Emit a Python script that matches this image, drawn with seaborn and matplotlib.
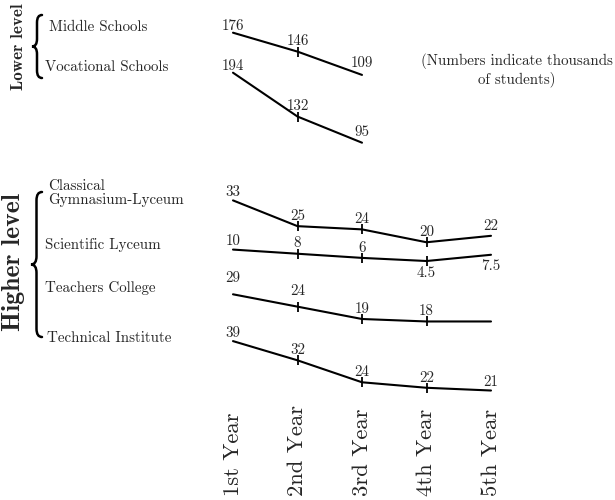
import matplotlib
matplotlib.use('Agg')
import matplotlib.pyplot as plt
from matplotlib.path import Path
from matplotlib.patches import PathPatch
from matplotlib.transforms import blended_transform_factory
import pandas as pd
import seaborn as sns

# data (thousands of students)
years = ['1st Year', '2nd Year', '3rd Year', '4th Year', '5th Year']
middle = [176, 146, 109]
vocational = [194, 132, 95]
classical = [33, 25, 24, 20, 22]
scientific = [10, 8, 6, 4.5, 7.5]
teachers = [29, 24, 19, 18, 18]
technical = [39, 32, 24, 22, 21]
teachers_labels = ['29', '24', '19', '18', '']

sns.set_style('white')
plt.rcParams['font.family'] = ['cmr10', 'DejaVu Serif']
plt.rcParams['axes.formatter.use_mathtext'] = True

W, H = 615, 500
fig = plt.figure(figsize=(W / 100, H / 100), dpi=100)

# overlay axes in pixel units for texts and braces
over = fig.add_axes([0, 0, 1, 1], facecolor='none')
over.set_xlim(0, W)
over.set_ylim(H, 0)
over.axis('off')

# x placement of the year columns (pixels)
x0, dx = 233, 64.5

# per series: values, labels, (reference value, its pixel row, pixels per unit)
rows = [
    (middle, None, (176, 32.7, 0.63)),
    (vocational, None, (194, 72.7, 0.707)),
    (classical, None, (24.8, 226.8, 3.22)),
    (scientific, None, (7.2, 255.4, 2.08)),
    (teachers, teachers_labels, (29, 294.3, 2.47)),
    (technical, None, (27.6, 372.4, 2.745)),
]
# label nudges (points above the line), default 4.5
nudge = {(0, 0): 2, (1, 0): 2, (4, 0): 8.5, (4, 1): 8.5, (0, 2): 5.5,
         (2, 0): 3.5, (3, 0): 3, (5, 0): 3, (5, 4): 3}
below = {(3, 3), (3, 4)}
vfs = 10.8


def fmt(v):
    return f'{v:g}'


axes = []
for r, (vals, labels, (vref, yref, k)) in enumerate(rows):
    ax = fig.add_axes([0, 0, 1, 1], facecolor='none')
    ax.set_xlim(-x0 / dx, (W - x0) / dx)
    ax.set_ylim(vref - (H - yref) / k, vref + yref / k)
    ax.axis('off')
    df = pd.DataFrame({'year': range(len(vals)), 'value': vals})
    sns.lineplot(data=df, x='year', y='value', ax=ax, color='black',
                 linewidth=1.5, legend=False)
    inner = df.iloc[1:-1]
    sns.scatterplot(data=inner, x='year', y='value', ax=ax, marker='|',
                    s=45, color='black', linewidth=1.3, legend=False)
    for i, v in enumerate(vals):
        txt = labels[i] if labels is not None else fmt(v)
        if not txt:
            continue
        if (r, i) in below:
            ax.annotate(txt, (i, v), xytext=(0, -3.5), textcoords='offset points',
                        ha='center', va='top', fontsize=vfs)
        else:
            ax.annotate(txt, (i, v), xytext=(0, nudge.get((r, i), 4.5)),
                        textcoords='offset points', ha='center', va='baseline',
                        fontsize=vfs)
    axes.append(ax)

# year labels along the bottom
tr = blended_transform_factory(axes[0].transData, over.transData)
for i, y in enumerate(years):
    axes[0].text(i, 496, y, transform=tr, rotation=90, ha='center', va='bottom',
                 fontsize=16.3)

# row names
fs = 10.8
over.text(49, 27, 'Middle Schools', ha='left', va='center', fontsize=fs)
over.text(45, 67, 'Vocational Schools', ha='left', va='center', fontsize=fs)
over.text(48, 193, 'Classical\nGymnasium-Lyceum', ha='left', va='center',
          fontsize=fs, linespacing=1.05)
over.text(45, 245, 'Scientific Lyceum', ha='left', va='center', fontsize=fs)
over.text(45, 288, 'Teachers College', ha='left', va='center', fontsize=fs)
over.text(47, 338, 'Technical Institute', ha='left', va='center', fontsize=fs)

over.text(517, 70, '(Numbers indicate thousands\nof students)', ha='center',
          va='center', fontsize=fs, multialignment='center', linespacing=1.15)

over.text(19, 47, 'Lower level', rotation=90, ha='center', va='center',
          fontsize=12.3, family='cmb10')
over.text(14, 262, 'Higher level', rotation=90, ha='center', va='center',
          fontsize=18.5, family='cmb10')


def brace(x_tip, x_end, y0, y1):
    xm = (x_tip + x_end) / 2
    ym = (y0 + y1) / 2
    r = (x_end - x_tip) * 0.75
    verts = [(x_end, y0), (xm, y0), (xm, y0 + r),
             (xm, ym - r), (xm, ym), (x_tip, ym),
             (xm, ym), (xm, ym + r),
             (xm, y1 - r), (xm, y1), (x_end, y1)]
    codes = [Path.MOVETO, Path.CURVE3, Path.CURVE3,
             Path.LINETO, Path.CURVE3, Path.CURVE3,
             Path.CURVE3, Path.CURVE3,
             Path.LINETO, Path.CURVE3, Path.CURVE3]
    over.add_patch(PathPatch(Path(verts, codes), fill=False, lw=1.8,
                             color='black', capstyle='round'))


brace(32, 42, 15, 78)
brace(31, 42, 192, 337)

fig.savefig('out.png', dpi=100)
